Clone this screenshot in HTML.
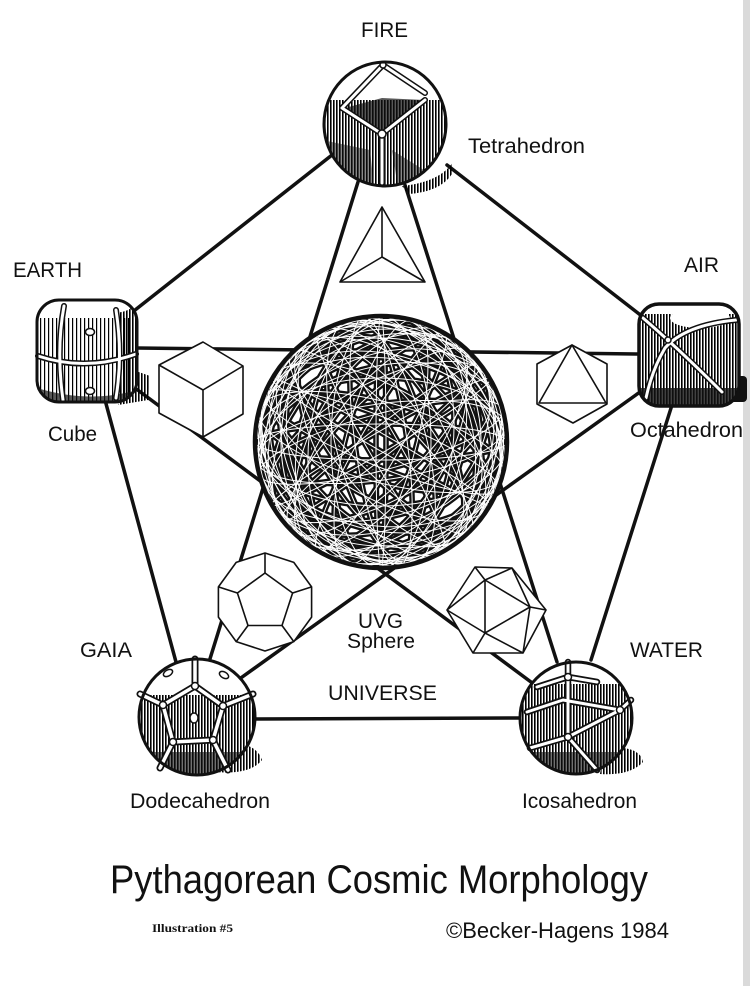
<!DOCTYPE html>
<html><head><meta charset="utf-8"><style>
html,body{margin:0;padding:0;background:#fff;}
svg{display:block;}
text{font-family:"Liberation Sans",sans-serif;fill:#111;}
</style></head><body>
<svg width="750" height="986" viewBox="0 0 750 986" xmlns="http://www.w3.org/2000/svg">
<defs>
<pattern id="h" width="3" height="8" patternUnits="userSpaceOnUse"><rect width="1.6" height="8" fill="#000"/></pattern>
<pattern id="hl" width="4" height="8" patternUnits="userSpaceOnUse"><rect width="1.2" height="8" fill="#000"/></pattern>
<clipPath id="sc"><circle cx="381" cy="442" r="125"/></clipPath>
<clipPath id="cf"><ellipse cx="385" cy="124" rx="61" ry="62"/></clipPath>
<clipPath id="ce"><rect x="37" y="300" width="100" height="102" rx="22"/></clipPath>
<clipPath id="ca"><rect x="639" y="304" width="100" height="102" rx="20"/></clipPath>
<clipPath id="cg"><circle cx="197" cy="717" r="58"/></clipPath>
<clipPath id="cw"><circle cx="576" cy="718" r="56"/></clipPath>
<g id="sp">
<ellipse cx="381" cy="442" rx="126" ry="18"/><ellipse cx="381" cy="442" rx="126" ry="64"/><ellipse cx="381" cy="442" rx="126" ry="104"/>
<g transform="rotate(15 381 442)"><ellipse cx="381" cy="442" rx="126" ry="40"/><ellipse cx="381" cy="442" rx="126" ry="88"/><ellipse cx="381" cy="442" rx="126" ry="118"/></g>
<g transform="rotate(30 381 442)"><ellipse cx="381" cy="442" rx="126" ry="8"/><ellipse cx="381" cy="442" rx="126" ry="55"/><ellipse cx="381" cy="442" rx="126" ry="98"/></g>
<g transform="rotate(45 381 442)"><ellipse cx="381" cy="442" rx="126" ry="30"/><ellipse cx="381" cy="442" rx="126" ry="78"/><ellipse cx="381" cy="442" rx="126" ry="112"/></g>
<g transform="rotate(60 381 442)"><ellipse cx="381" cy="442" rx="126" ry="15"/><ellipse cx="381" cy="442" rx="126" ry="62"/><ellipse cx="381" cy="442" rx="126" ry="106"/></g>
<g transform="rotate(75 381 442)"><ellipse cx="381" cy="442" rx="126" ry="45"/><ellipse cx="381" cy="442" rx="126" ry="92"/><ellipse cx="381" cy="442" rx="126" ry="120"/></g>
<g transform="rotate(90 381 442)"><ellipse cx="381" cy="442" rx="126" ry="5"/><ellipse cx="381" cy="442" rx="126" ry="50"/><ellipse cx="381" cy="442" rx="126" ry="100"/></g>
<g transform="rotate(105 381 442)"><ellipse cx="381" cy="442" rx="126" ry="35"/><ellipse cx="381" cy="442" rx="126" ry="82"/><ellipse cx="381" cy="442" rx="126" ry="115"/></g>
<g transform="rotate(120 381 442)"><ellipse cx="381" cy="442" rx="126" ry="20"/><ellipse cx="381" cy="442" rx="126" ry="68"/><ellipse cx="381" cy="442" rx="126" ry="108"/></g>
<g transform="rotate(135 381 442)"><ellipse cx="381" cy="442" rx="126" ry="42"/><ellipse cx="381" cy="442" rx="126" ry="88"/><ellipse cx="381" cy="442" rx="126" ry="119"/></g>
<g transform="rotate(150 381 442)"><ellipse cx="381" cy="442" rx="126" ry="10"/><ellipse cx="381" cy="442" rx="126" ry="58"/><ellipse cx="381" cy="442" rx="126" ry="102"/></g>
<g transform="rotate(165 381 442)"><ellipse cx="381" cy="442" rx="126" ry="28"/><ellipse cx="381" cy="442" rx="126" ry="75"/><ellipse cx="381" cy="442" rx="126" ry="112"/></g>
<g transform="rotate(7 381 442)"><ellipse cx="381" cy="442" rx="126" ry="84"/></g>
<g transform="rotate(22 381 442)"><ellipse cx="381" cy="442" rx="126" ry="24"/></g>
<g transform="rotate(37 381 442)"><ellipse cx="381" cy="442" rx="126" ry="110"/></g>
<g transform="rotate(52 381 442)"><ellipse cx="381" cy="442" rx="126" ry="48"/></g>
<g transform="rotate(67 381 442)"><ellipse cx="381" cy="442" rx="126" ry="96"/></g>
<g transform="rotate(82 381 442)"><ellipse cx="381" cy="442" rx="126" ry="26"/></g>
<g transform="rotate(97 381 442)"><ellipse cx="381" cy="442" rx="126" ry="72"/></g>
<g transform="rotate(112 381 442)"><ellipse cx="381" cy="442" rx="126" ry="122"/></g>
<g transform="rotate(127 381 442)"><ellipse cx="381" cy="442" rx="126" ry="52"/></g>
<g transform="rotate(142 381 442)"><ellipse cx="381" cy="442" rx="126" ry="14"/></g>
<g transform="rotate(157 381 442)"><ellipse cx="381" cy="442" rx="126" ry="86"/></g>
<g transform="rotate(172 381 442)"><ellipse cx="381" cy="442" rx="126" ry="38"/></g>
</g>
</defs>

<rect width="750" height="986" fill="#fff"/>
<rect x="743" y="0" width="7" height="986" fill="#dadada"/>

<!-- connector lines -->
<g stroke="#111" stroke-width="3.5" stroke-linecap="round" fill="none">
<line x1="332" y1="155" x2="130" y2="314"/>
<line x1="447" y1="165" x2="643" y2="317"/>
<line x1="358" y1="182" x2="209" y2="662"/>
<line x1="405" y1="185" x2="557" y2="662"/>
<line x1="137" y1="348" x2="640" y2="354"/>
<line x1="135" y1="388" x2="535" y2="685"/>
<line x1="640" y1="392" x2="238" y2="680"/>
<line x1="105" y1="400" x2="176" y2="662"/>
<line x1="672" y1="405" x2="591" y2="660"/>
<line x1="253" y1="719" x2="522" y2="718"/>
</g>

<!-- UVG sphere -->
<circle cx="381" cy="442" r="126" fill="#fff"/>
<g clip-path="url(#sc)" fill="none">
<use href="#sp" stroke="#111" stroke-width="5.6"/>
<use href="#sp" stroke="#fff" stroke-width="1"/>
</g>
<circle cx="381" cy="442" r="126" fill="none" stroke="#111" stroke-width="4.5"/>

<!-- wireframe solids -->
<g fill="#fff" stroke="#111" stroke-width="1.6" stroke-linejoin="round">
<polygon points="382,207 340,282 425,282"/>
<path d="M382,257 L382,207 M382,257 L340,282 M382,257 L425,282" fill="none"/>
<polygon points="203,342 243,366 243,414 203,437 159,413 159,365"/>
<path d="M203,390 L159,365 M203,390 L243,366 M203,390 L203,437" fill="none"/>
<polygon points="572,345 607,364 607,404 573,423 537,404 537,364"/>
<path d="M572,345 L539,403 L606,403 Z" fill="none"/>
<polygon points="265,553 293.8,562.4 311.6,586.9 311.6,617.1 293.8,641.6 265,651 236.2,641.6 218.4,617.1 218.4,586.9 236.2,562.4"/>
<polygon points="265,573 292.6,593 282,625.5 248,625.5 237.4,593" fill="none"/>
<path d="M265,573 L265,553 M292.6,593 L311.6,586.9 M282,625.5 L293.8,641.6 M248,625.5 L236.2,641.6 M237.4,593 L218.4,586.9" fill="none"/>
<polygon points="475,567 512,568 546,610 523,653 473,653 447,610"/>
<path d="M485,580 L530,607 L485,633 Z M485,580 L475,567 M485,580 L512,568 M485,580 L447,610 M530,607 L512,568 M530,607 L546,610 M530,607 L523,653 M485,633 L523,653 M485,633 L473,653 M485,633 L447,610" fill="none"/>
</g>

<!-- FIRE node -->
<path d="M402,186 Q440,182 453,162 L452,174 Q440,192 408,194 Z" fill="url(#h)"/>
<ellipse cx="385" cy="124" rx="61" ry="62" fill="#fff"/>
<g clip-path="url(#cf)">
<rect x="320" y="100" width="130" height="95" fill="url(#h)"/>
<path d="M345,108 L382,98 L424,100 L382,132 Z" fill="#111" opacity="0.7"/>
<path d="M322,140 Q330,178 362,188 L374,188 L370,150 Z" fill="#111" opacity="0.5"/>
<path d="M392,150 L398,188 L432,175 Z" fill="#111" opacity="0.5"/>
</g>
<g fill="none" stroke-linecap="round" stroke-linejoin="round">
<path d="M383,65 L342,108 M383,65 L425,93 M342,108 L382,134 L425,100 M382,134 L382,183" stroke="#111" stroke-width="6"/>
<path d="M383,65 L342,108 M383,65 L425,93 M342,108 L382,134 L425,100 M382,134 L382,183" stroke="#fff" stroke-width="3"/>
</g>
<circle cx="382" cy="134" r="4" fill="#fff" stroke="#111" stroke-width="1.5"/>
<circle cx="383" cy="65" r="3" fill="#fff" stroke="#111" stroke-width="1.5"/>
<ellipse cx="385" cy="124" rx="61" ry="62" fill="none" stroke="#111" stroke-width="3"/>

<!-- EARTH node -->
<path d="M133,370 L150,376 L148,400 L118,405 Z" fill="url(#h)"/>
<rect x="37" y="300" width="100" height="102" rx="22" fill="#fff"/>
<g clip-path="url(#ce)">
<rect x="37" y="318" width="100" height="90" fill="url(#hl)"/>
<rect x="117" y="300" width="25" height="105" fill="url(#h)"/>
<ellipse cx="90" cy="306" rx="42" ry="9" fill="#fff"/>
<path d="M37,388 Q90,404 137,390 L137,406 L37,406 Z" fill="#111" opacity="0.7"/>
</g>
<g fill="none" stroke-linecap="round">
<path d="M38,356 Q86,372 136,354 M64,306 Q56,350 63,400 M116,310 Q123,355 116,398" stroke="#111" stroke-width="6"/>
<path d="M38,356 Q86,372 136,354 M64,306 Q56,350 63,400 M116,310 Q123,355 116,398" stroke="#fff" stroke-width="3"/>
</g>
<ellipse cx="90" cy="332" rx="4.5" ry="3.5" fill="#fff" stroke="#111" stroke-width="1.5"/>
<ellipse cx="90" cy="391" rx="4.5" ry="3.5" fill="#fff" stroke="#111" stroke-width="1.5"/>
<rect x="37" y="300" width="100" height="102" rx="22" fill="none" stroke="#111" stroke-width="3"/>

<!-- AIR node -->
<rect x="728" y="376" width="19" height="26" rx="4" fill="#111"/>
<rect x="639" y="304" width="100" height="102" rx="20" fill="#fff"/>
<g clip-path="url(#ca)">
<rect x="639" y="314" width="100" height="95" fill="url(#h)"/>
<ellipse cx="700" cy="318" rx="30" ry="10" fill="#fff"/>
<rect x="639" y="388" width="100" height="20" fill="#111" opacity="0.8"/>
</g>
<g fill="none" stroke-linecap="round">
<path d="M643,318 Q680,350 722,392 M736,320 Q685,325 665,348 Q652,370 646,398" stroke="#111" stroke-width="6"/>
<path d="M643,318 Q680,350 722,392 M736,320 Q685,325 665,348 Q652,370 646,398" stroke="#fff" stroke-width="3"/>
</g>
<circle cx="668" cy="340" r="3" fill="#fff" stroke="#111" stroke-width="1.5"/>
<rect x="639" y="304" width="100" height="102" rx="20" fill="none" stroke="#111" stroke-width="3.5"/>

<!-- GAIA node -->
<path d="M222,744 Q255,740 262,760 Q250,775 215,772 Z" fill="url(#h)"/>
<circle cx="197" cy="717" r="58" fill="#fff"/>
<g clip-path="url(#cg)">
<rect x="138" y="695" width="120" height="85" fill="url(#h)"/>
<rect x="138" y="752" width="120" height="30" fill="#111" opacity="0.6"/>
</g>
<g fill="none" stroke-linecap="round" stroke-linejoin="round">
<path d="M195,686 L223,706 L213,740 L173,742 L163,705 Z M195,686 L195,659 M223,706 L253,694 M213,740 L228,770 M173,742 L160,768 M163,705 L140,694" stroke="#111" stroke-width="7"/>
<path d="M195,686 L223,706 L213,740 L173,742 L163,705 Z M195,686 L195,659 M223,706 L253,694 M213,740 L228,770 M173,742 L160,768 M163,705 L140,694" stroke="#fff" stroke-width="3.5"/>
</g>
<g fill="#fff" stroke="#111" stroke-width="1.5">
<circle cx="195" cy="686" r="3.5"/><circle cx="223" cy="706" r="3.5"/><circle cx="213" cy="740" r="3.5"/><circle cx="173" cy="742" r="3.5"/><circle cx="163" cy="705" r="3.5"/>
<ellipse cx="168" cy="673" rx="5" ry="3" transform="rotate(-30 168 673)"/>
<ellipse cx="224" cy="675" rx="5" ry="3" transform="rotate(30 224 675)"/>
<ellipse cx="194" cy="718" rx="4" ry="5"/>
</g>
<circle cx="197" cy="717" r="58" fill="none" stroke="#111" stroke-width="3"/>

<!-- WATER node -->
<path d="M605,748 Q640,745 643,762 Q630,776 600,774 Z" fill="url(#h)"/>
<circle cx="576" cy="718" r="56" fill="#fff"/>
<g clip-path="url(#cw)">
<rect x="520" y="684" width="115" height="95" fill="url(#h)"/>
<rect x="520" y="752" width="115" height="28" fill="#111" opacity="0.6"/>
</g>
<g fill="none" stroke-linecap="round" stroke-linejoin="round">
<path d="M537,687 L568,677 L597,682 M568,677 L568,737 M527,712 L563,700 L620,710 M530,748 L568,737 L620,710 M568,737 L597,770 M568,662 L568,677 M620,710 L631,700" stroke="#111" stroke-width="6.5"/>
<path d="M537,687 L568,677 L597,682 M568,677 L568,737 M527,712 L563,700 L620,710 M530,748 L568,737 L620,710 M568,737 L597,770 M568,662 L568,677 M620,710 L631,700" stroke="#fff" stroke-width="3"/>
</g>
<g fill="#fff" stroke="#111" stroke-width="1.5">
<circle cx="568" cy="677" r="3.5"/><circle cx="620" cy="710" r="3.5"/><circle cx="568" cy="737" r="3.5"/>
</g>
<circle cx="576" cy="718" r="56" fill="none" stroke="#111" stroke-width="3"/>

<!-- labels -->
<g font-size="21">
<text x="361" y="37" textLength="47" lengthAdjust="spacingAndGlyphs">FIRE</text>
<text x="468" y="153" textLength="117" lengthAdjust="spacingAndGlyphs">Tetrahedron</text>
<text x="13" y="277" textLength="69" lengthAdjust="spacingAndGlyphs">EARTH</text>
<text x="48" y="441" textLength="49" lengthAdjust="spacingAndGlyphs">Cube</text>
<text x="684" y="272" textLength="35" lengthAdjust="spacingAndGlyphs">AIR</text>
<text x="630" y="437" textLength="113" lengthAdjust="spacingAndGlyphs">Octahedron</text>
<text x="80" y="657" textLength="52" lengthAdjust="spacingAndGlyphs">GAIA</text>
<text x="130" y="808" textLength="140" lengthAdjust="spacingAndGlyphs">Dodecahedron</text>
<text x="358" y="628" textLength="45" lengthAdjust="spacingAndGlyphs">UVG</text>
<text x="347" y="648" textLength="68" lengthAdjust="spacingAndGlyphs">Sphere</text>
<text x="328" y="700" textLength="109" lengthAdjust="spacingAndGlyphs">UNIVERSE</text>
<text x="630" y="657" textLength="73" lengthAdjust="spacingAndGlyphs">WATER</text>
<text x="522" y="808" textLength="115" lengthAdjust="spacingAndGlyphs">Icosahedron</text>
</g>
<text x="110" y="893" font-size="40" textLength="538" lengthAdjust="spacingAndGlyphs">Pythagorean Cosmic Morphology</text>
<text x="152" y="932" font-size="11.5" font-weight="bold" style="font-family:'Liberation Serif',serif" textLength="81" lengthAdjust="spacingAndGlyphs">Illustration #5</text>
<text x="446" y="938" font-size="22" textLength="223" lengthAdjust="spacingAndGlyphs">©Becker-Hagens 1984</text>
</svg>
</body></html>
